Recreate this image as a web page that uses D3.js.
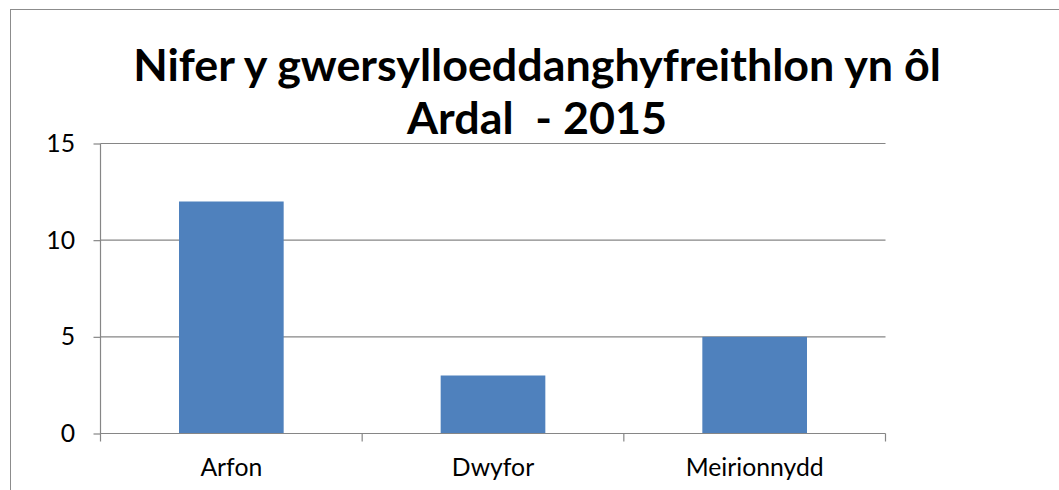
<!DOCTYPE html>
<html>
<head>
<meta charset="utf-8">
<script src="https://cdn.jsdelivr.net/npm/d3@7"></script>
<style>
  html, body { margin: 0; padding: 0; background: #fff; }
  svg { display: block; }
</style>
</head>
<body>
<svg id="chart" width="1059" height="490"></svg>
<script>
const categories = ["Arfon", "Dwyfor", "Meirionnydd"];
const values = [12, 3, 5];
const yTicks = [0, 5, 10, 15];
const titleLines = ["Nifer y gwersylloeddanghyfreithlon yn ôl", "Ardal  - 2015"];

const svg = d3.select("#chart");
const W = 1059, H = 490;
const m = { left: 100.5, right: 1059 - 885.5, top: 143.5, bottom: 490 - 433.5 };
const font = "Lato, 'Open Sans', sans-serif";
const gray = "#868686";

// outer border
svg.append("rect").attr("x", 10.5).attr("y", 9.5).attr("width", 1080).attr("height", 520)
  .attr("fill", "none").attr("stroke", "#8c8c8c").attr("stroke-width", 1);

const x = d3.scaleBand().domain(categories).range([m.left, W - m.right]).paddingInner(0.6).paddingOuter(0.3);
const y = d3.scaleLinear().domain([0, 15]).range([H - m.bottom, m.top]);

// fit label font to reference width
const probe = svg.append("text").attr("font-family", font).attr("font-size", 20).text("Meirionnydd");
const labelFs = 20 * 138 / probe.node().getComputedTextLength();
probe.remove();

// gridlines
svg.append("g").selectAll("line").data(yTicks.filter(d => d > 0)).join("line")
  .attr("x1", m.left).attr("x2", W - m.right)
  .attr("y1", d => y(d)).attr("y2", d => y(d))
  .attr("stroke", gray).attr("stroke-width", 1.2);

// bars
svg.append("g").selectAll("rect").data(values).join("rect")
  .attr("x", (d, i) => x(categories[i]))
  .attr("width", x.bandwidth())
  .attr("y", d => y(d))
  .attr("height", d => y(0) - y(d))
  .attr("fill", "#4F81BD");

// y axis
const yAxis = svg.append("g").attr("transform", `translate(${m.left},0)`)
  .call(d3.axisLeft(y).tickValues(yTicks).tickSize(7).tickSizeOuter(0).tickPadding(18));
yAxis.select(".domain").remove();
yAxis.append("line").attr("x1", 0).attr("x2", 0).attr("y1", y(15)).attr("y2", y(0) + 8)
  .attr("stroke", gray).attr("stroke-width", 1.2);
yAxis.selectAll(".tick line").attr("stroke", gray).attr("stroke-width", 1.2);
yAxis.selectAll(".tick text").attr("font-family", font).attr("font-size", labelFs).attr("fill", "#000")
  .attr("x", -25.5);

// x axis
const xBottom = y(0);
svg.append("line").attr("x1", m.left).attr("x2", W - m.right).attr("y1", xBottom).attr("y2", xBottom)
  .attr("stroke", gray).attr("stroke-width", 1.2);
const step = x.step();
const boundaries = categories.map((c, i) => x(c) - x.paddingInner() * step / 2);
boundaries.push(W - m.right);
svg.append("g").selectAll("line").data(boundaries.slice(1)).join("line")
  .attr("x1", d => d).attr("x2", d => d).attr("y1", xBottom).attr("y2", xBottom + 8)
  .attr("stroke", gray).attr("stroke-width", 1.2);
svg.append("g").selectAll("text").data(categories).join("text")
  .attr("x", d => x(d) + x.bandwidth() / 2).attr("y", 476)
  .attr("text-anchor", "middle").attr("font-family", font).attr("font-size", labelFs).attr("fill", "#000")
  .text(d => d);

// title
const title = svg.append("g");
const t1 = title.append("text").attr("x", 537).attr("y", 81).attr("text-anchor", "middle")
  .attr("font-family", font).attr("font-weight", "bold").attr("font-size", 38).attr("fill", "#000")
  .text(titleLines[0]);
const w1 = t1.node().getComputedTextLength();
const fs = 38 * 808 / w1;
t1.attr("font-size", fs);
title.append("text").attr("x", 537).attr("y", 134).attr("text-anchor", "middle")
  .attr("font-family", font).attr("font-weight", "bold").attr("font-size", fs).attr("fill", "#000")
  .attr("xml:space", "preserve").style("white-space", "pre")
  .text(titleLines[1]);
</script>
</body>
</html>
